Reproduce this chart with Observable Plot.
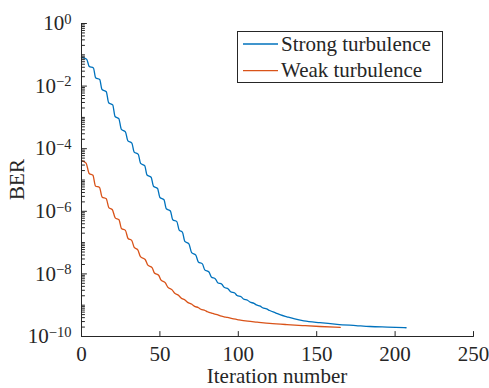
<!DOCTYPE html>
<html><head><meta charset="utf-8">
<script src="https://cdn.jsdelivr.net/npm/d3@7"></script>
<script src="https://cdn.jsdelivr.net/npm/@observablehq/plot@0.6"></script>
<style>body{margin:0;background:#fff}</style>
</head><body><div id="chart"></div>
<script>
// Strong turbulence: iteration number and log10(BER)
const strongIter = [0,3.3,4.9,7.6,9.0,11.6,13.1,15.8,17.3,19.9,21.4,23.8,25.4,28.0,29.6,32.1,33.6,36.2,37.7,40.3,41.8,44.4,45.9,48.5,50.0,52.6,54.1,56.7,58.2,60.8,62.3,64.4,65.9,68.5,70.2,72.9,74.5,77.1,78.6,81.3,82.8,85.4,86.9,89.5,91.0,93.6,95.1,97.7,99.2,101.8,103.3,105.9,107.4,110,111.5,114,115.5,118,120,124,127,131,136,141.8,152,163,175,184,195,207];
const strongExp  = [-1.08,-1.14,-1.37,-1.42,-1.73,-1.79,-2.11,-2.18,-2.53,-2.60,-2.97,-3.04,-3.38,-3.46,-3.75,-3.82,-4.11,-4.18,-4.47,-4.54,-4.84,-4.91,-5.20,-5.27,-5.56,-5.63,-5.92,-5.99,-6.27,-6.33,-6.60,-6.67,-6.96,-7.04,-7.32,-7.40,-7.62,-7.68,-7.87,-7.94,-8.10,-8.16,-8.28,-8.33,-8.43,-8.48,-8.57,-8.61,-8.69,-8.73,-8.80,-8.84,-8.90,-8.94,-8.99,-9.03,-9.08,-9.12,-9.17,-9.25,-9.31,-9.37,-9.44,-9.50,-9.56,-9.61,-9.65,-9.68,-9.70,-9.72];
// Weak turbulence
const weakIter = [0,2.9,4.9,7.3,8.9,11.5,13.1,15.8,17.4,19.7,21.5,23.9,25.5,28.0,29.7,32.0,33.6,35.9,37.6,40.6,42.3,45.0,46.5,49.3,50.6,53.5,55.0,57.8,59.3,62.0,63.5,66.2,67.7,70.4,71.9,74.6,76.1,78.8,80.3,83,84.5,87,88.5,91,93,97,100.4,106,112,120,131,141,152,165];
const weakExp  = [-4.38,-4.46,-4.79,-4.85,-5.19,-5.24,-5.54,-5.60,-5.88,-5.95,-6.21,-6.27,-6.55,-6.61,-6.87,-6.93,-7.15,-7.23,-7.45,-7.54,-7.72,-7.80,-7.97,-8.05,-8.19,-8.29,-8.42,-8.51,-8.61,-8.69,-8.77,-8.84,-8.91,-8.97,-9.03,-9.08,-9.13,-9.17,-9.21,-9.25,-9.28,-9.31,-9.34,-9.37,-9.39,-9.44,-9.47,-9.51,-9.54,-9.58,-9.62,-9.65,-9.68,-9.71];

const seriesNames = ["Strong turbulence", "Weak turbulence"];
const seriesColors = ["#0072BD", "#D95319"];
const xTicks = [0, 50, 100, 150, 200, 250];
const yTickExps = [0, -2, -4, -6, -8, -10];
const xLabel = "Iteration number";
const yLabel = "BER";

const rows = [
  ...strongIter.map((x, i) => ({series: seriesNames[0], x, ber: Math.pow(10, strongExp[i])})),
  ...weakIter.map((x, i) => ({series: seriesNames[1], x, ber: Math.pow(10, weakExp[i])}))
];
const majorY = yTickExps.map(e => Math.pow(10, e));
const minorY = [];
for (let k = -10; k < 0; k++) for (let m = 1; m <= 9; m++) {
  if (m === 1 && k % 2 === 0) continue;
  minorY.push(m * Math.pow(10, k));
}

const W = 489, H = 388;
const ml = 81, mr = 16, mt = 23, mb = 52;
const font = "'Liberation Serif', 'Times New Roman', serif";
const fs = "21px";
const ink = "#262626";
const tickShape = {draw(ctx, l) { ctx.moveTo(0, 0); ctx.lineTo(0, -l); }};

const plot = Plot.plot({
  width: W, height: H,
  marginLeft: ml, marginRight: mr, marginTop: mt, marginBottom: mb,
  style: {fontFamily: font, fontSize: fs, color: ink, background: "#fff"},
  x: {domain: [0, 250]},
  y: {type: "log", domain: [1e-10, 1]},
  color: {domain: seriesNames, range: seriesColors},
  marks: [
    Plot.lineY(rows, {x: "x", y: "ber", stroke: "series", strokeWidth: 1.3, curve: "monotone-x"}),
    Plot.axisX({ticks: xTicks, tickSize: 0, tickPadding: 10, label: null, fill: ink}),
    Plot.axisY({ticks: majorY, tickSize: 0, tickPadding: 10, label: null,
      tickFormat: d => "10^" + Math.round(Math.log10(d)), fill: ink}),
    Plot.vector(xTicks, {x: d => d, y: 1e-10, length: 5, rotate: 0, anchor: "start", shape: tickShape, stroke: ink, strokeWidth: 1}),
    Plot.vector(majorY, {x: 0, y: d => d, length: 5, rotate: 90, anchor: "start", shape: tickShape, stroke: ink, strokeWidth: 1}),
    Plot.vector(minorY, {x: 0, y: d => d, length: 3, rotate: 90, anchor: "start", shape: tickShape, stroke: ink, strokeWidth: 1}),
    Plot.ruleX([0], {y1: 1e-10, y2: 1, stroke: ink, strokeWidth: 1}),
    Plot.ruleY([1e-10], {x1: 0, x2: 250, stroke: ink, strokeWidth: 1})
  ]
});
document.getElementById("chart").appendChild(plot);

const svg = d3.select(plot);
// superscript exponents on y tick labels
svg.selectAll('g[aria-label="y-axis tick label"] text').each(function() {
  const t = d3.select(this);
  const s = t.text();
  if (!s.startsWith("10^")) return;
  const e = s.slice(3);
  t.text(null);
  t.append("tspan").text("10");
  t.append("tspan").attr("dy", "-0.45em").style("font-size", "14.5px").text(e.replace("-", "\u2212"));
});

// axis titles
svg.append("text").attr("x", (ml + W - mr) / 2).attr("y", 383)
  .attr("text-anchor", "middle").style("font-family", font).style("font-size", fs)
  .attr("fill", ink).text(xLabel);
svg.append("text").attr("transform", `translate(24,${(mt + H - mb) / 2}) rotate(-90)`)
  .attr("text-anchor", "middle").style("font-family", font).style("font-size", fs)
  .attr("fill", ink).text(yLabel);

// legend
const lg = svg.append("g");
lg.append("rect").attr("x", 237.5).attr("y", 31.5).attr("width", 205).attr("height", 51)
  .attr("fill", "#fff").attr("stroke", ink).attr("stroke-width", 1);
seriesNames.forEach((name, i) => {
  const y = 44 + i * 26.7;
  lg.append("line").attr("x1", 243).attr("x2", 278).attr("y1", y).attr("y2", y)
    .attr("stroke", seriesColors[i]).attr("stroke-width", 1.3);
  lg.append("text").attr("x", 281).attr("y", y + 6.5).attr("text-anchor", "start")
    .style("font-family", font).style("font-size", fs).attr("fill", ink).text(name);
});
</script></body></html>
